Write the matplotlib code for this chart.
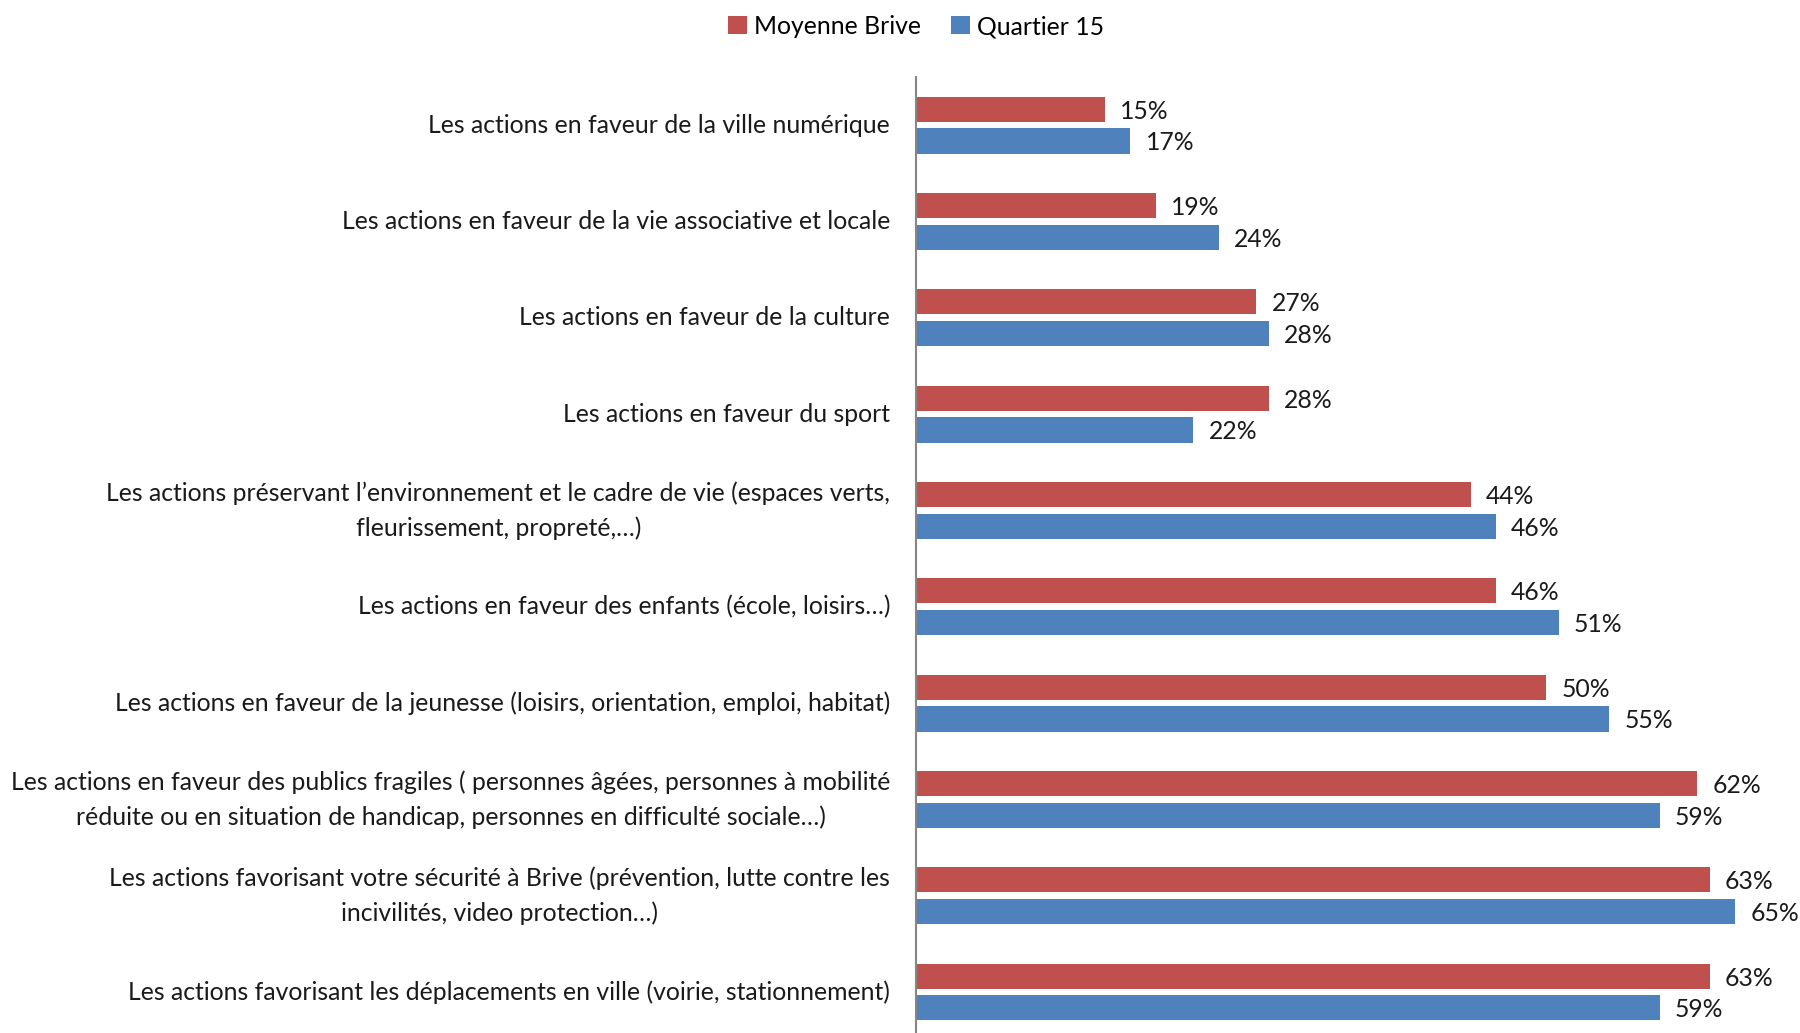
import matplotlib
matplotlib.use("Agg")
import matplotlib.pyplot as plt
import matplotlib.transforms as mtransforms
import numpy as np

plt.rcParams['font.family'] = ['Lato', 'DejaVu Sans']

categories = [
    "Les actions en faveur de la ville numérique",
    "Les actions en faveur de la vie associative et locale",
    "Les actions en faveur de la culture",
    "Les actions en faveur du sport",
    "Les actions préservant l’environnement et le cadre de vie (espaces verts,\nfleurissement, propreté,…)",
    "Les actions en faveur des enfants (école, loisirs…)",
    "Les actions en faveur de la jeunesse (loisirs, orientation, emploi, habitat)",
    "Les actions en faveur des publics fragiles ( personnes âgées, personnes à mobilité\nréduite ou en situation de handicap, personnes en difficulté sociale…)",
    "Les actions favorisant votre sécurité à Brive (prévention, lutte contre les\nincivilités, video protection…)",
    "Les actions favorisant les déplacements en ville (voirie, stationnement)",
]
moyenne_brive = [15, 19, 27, 28, 44, 46, 50, 62, 63, 63]
quartier_15 = [17, 24, 28, 22, 46, 51, 55, 59, 65, 59]

red = '#C0504D'
blue = '#4F81BD'
fs = 17.8

fig = plt.figure(figsize=(18, 10.33), dpi=100)
ax = fig.add_axes([0.509, -0.007, 0.49, 0.9325])

y = np.arange(len(categories))
h = 0.26
off = 0.165
ax.barh(y - off, moyenne_brive, height=h, color=red, label='Moyenne Brive')
ax.barh(y + off, quartier_15, height=h, color=blue, label='Quartier 15')

for i in range(len(categories)):
    ax.text(moyenne_brive[i] + 1.2, y[i] - off + 0.02, f"{moyenne_brive[i]}%",
            va='center', ha='left', fontsize=fs, color='#1a1a1a')
    ax.text(quartier_15[i] + 1.2, y[i] + off + 0.02, f"{quartier_15[i]}%",
            va='center', ha='left', fontsize=fs, color='#1a1a1a')

# category labels, right aligned against the axis, lines centred
lab_tr = mtransforms.blended_transform_factory(ax.transAxes, ax.transData) + \
    mtransforms.ScaledTranslation(-26 / 100, 0, fig.dpi_scale_trans)
for i, cat in enumerate(categories):
    ax.text(0, y[i], cat, transform=lab_tr, ha='right', va='center',
            multialignment='center', linespacing=1.6, fontsize=fs, color='#1a1a1a')

ax.set_xlim(0, 70)
ax.set_ylim(len(categories) - 0.5, -0.5)
ax.set_yticks([])
ax.set_xticks([])
for s in ['top', 'right', 'bottom']:
    ax.spines[s].set_visible(False)
ax.spines['left'].set_color('#868686')
ax.spines['left'].set_linewidth(1.5)

fig.legend(loc='upper center', bbox_to_anchor=(0.509, 1.007), ncol=2, frameon=False,
           fontsize=fs, handlelength=0.75, handleheight=0.75, handletextpad=0.3,
           columnspacing=1.2)

fig.savefig('out.png', dpi=100)
